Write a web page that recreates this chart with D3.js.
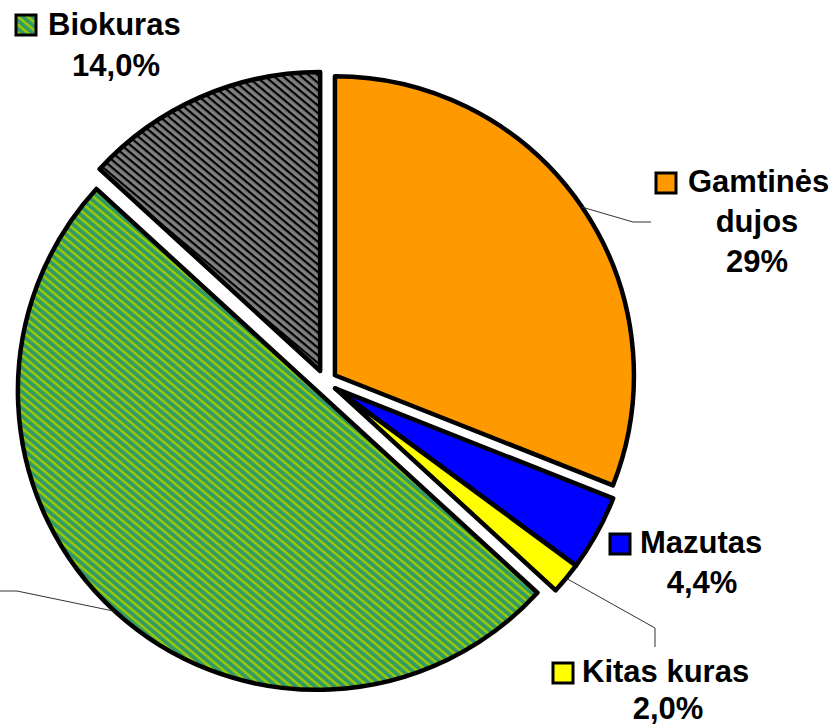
<!DOCTYPE html>
<html>
<head>
<meta charset="utf-8">
<script src="https://cdn.jsdelivr.net/npm/d3@7"></script>
<style>
  body { margin: 0; background: #fff; }
  text { font-family: "Liberation Sans", Arial, sans-serif; font-weight: bold; fill: #000; }
</style>
</head>
<body>
<svg id="chart"></svg>
<script>
const width = 834;
const height = 728;

// slice order clockwise from 12 o'clock
const categories = ['Gamtinės dujos', 'Mazutas', 'Kitas kuras', '', 'Biokuras'];
const shares = [31.0, 4.1, 1.7, 50.0, 13.2];      // pie shares as drawn
const pctLabels = ['29%', '4,4%', '2,0%', '', '14,0%'];
const nameLines = [['Gamtinės', 'dujos'], ['Mazutas'], ['Kitas kuras'], [], ['Biokuras']];
const fills = ['#FF9900', '#0000FF', '#FFFF00', 'url(#greenHatch)', 'url(#grayHatch)'];
const swatchFills = ['#FF9900', '#0000FF', '#FFFF00', 'url(#greenHatch)', 'url(#greenHatch)'];
const explodeGroup = [0, 1, 1, 2, 3];   // Mazutas + Kitas kuras move together

const cx = 325, cy = 382, radius = 299, explode = 12;

// label placement (layout only)
const labelLayout = [
    { sx: 656, sy: 173, tx: 688, y0: 192, mid: 757, lh: 40, leader: [[633, 222], [651, 222]] },
    { sx: 610, sy: 534, tx: 640, y0: 553, mid: 702, lh: 40, leader: null },
    { sx: 553, sy: 663, tx: 582, y0: 682, mid: 668, lh: 37, leader: [[655, 628], [655, 647]] },
    { sx: null, leader: [[17, 591], [-60, 591]] },
    { sx: 16, sy: 15, tx: 48, y0: 35, mid: 116, lh: 41, leader: null }
];

const svg = d3.select('#chart')
    .attr('width', width)
    .attr('height', height);

const defs = svg.append('defs');

function hatch(id, bg, fg, period, band, angle) {
    const p = defs.append('pattern')
        .attr('id', id)
        .attr('patternUnits', 'userSpaceOnUse')
        .attr('width', period)
        .attr('height', period)
        .attr('patternTransform', `rotate(${angle})`);
    p.append('rect').attr('width', period).attr('height', period).attr('fill', bg);
    p.append('rect').attr('width', period).attr('height', band).attr('fill', fg);
}
hatch('greenHatch', '#339966', '#99CC00', 6.2, 2.4, 40);
hatch('grayHatch', '#808080', '#000000', 5.8, 2.2, 40);

const pie = d3.pie().sort(null).value(d => d).startAngle(0).endAngle(2 * Math.PI);
const arcs = pie(shares);

// explode direction per group: middle of the group's angle span
const groupMid = {};
arcs.forEach((a, i) => {
    const g = explodeGroup[i];
    if (!groupMid[g]) groupMid[g] = [a.startAngle, a.endAngle];
    else groupMid[g][1] = a.endAngle;
});
function offsetOf(i) {
    const span = groupMid[explodeGroup[i]];
    const m = (span[0] + span[1]) / 2;
    return [explode * Math.sin(m), -explode * Math.cos(m)];
}

const arc = d3.arc().innerRadius(0).outerRadius(radius);

const slices = svg.append('g');
slices.selectAll('path.slice')
    .data(arcs)
    .enter()
    .append('path')
    .attr('class', 'slice')
    .attr('transform', (d, i) => {
        const o = offsetOf(i);
        return `translate(${cx + o[0]},${cy + o[1]})`;
    })
    .attr('d', arc)
    .attr('fill', (d, i) => fills[i])
    .attr('stroke', '#000')
    .attr('stroke-width', 4.5)
    .attr('stroke-linejoin', 'round');

// leader lines start on the arc at the middle angle of the slice
const leaders = svg.append('g');
arcs.forEach((a, i) => {
    const L = labelLayout[i];
    if (!L.leader) return;
    const o = offsetOf(i);
    const m = (a.startAngle + a.endAngle) / 2;
    const start = [cx + o[0] + radius * Math.sin(m), cy + o[1] - radius * Math.cos(m)];
    leaders.append('path')
        .attr('d', d3.line()([start].concat(L.leader)))
        .attr('fill', 'none')
        .attr('stroke', '#333')
        .attr('stroke-width', 1);
});

// labels
const labels = svg.append('g');
arcs.forEach((a, i) => {
    const L = labelLayout[i];
    if (L.sx === null) return;
    const lines = nameLines[i];
    labels.append('rect')
        .attr('x', L.sx).attr('y', L.sy)
        .attr('width', 20).attr('height', 20)
        .attr('fill', swatchFills[i])
        .attr('stroke', '#000')
        .attr('stroke-width', 3);
    labels.append('text')
        .attr('x', L.tx).attr('y', L.y0)
        .attr('font-size', 31)
        .text(lines[0]);
    const rest = lines.slice(1).concat([pctLabels[i]]);
    rest.forEach((t, k) => {
        labels.append('text')
            .attr('x', L.mid)
            .attr('y', L.y0 + L.lh * (k + 1))
            .attr('text-anchor', 'middle')
            .attr('font-size', 31)
            .text(t);
    });
});
</script>
</body>
</html>
